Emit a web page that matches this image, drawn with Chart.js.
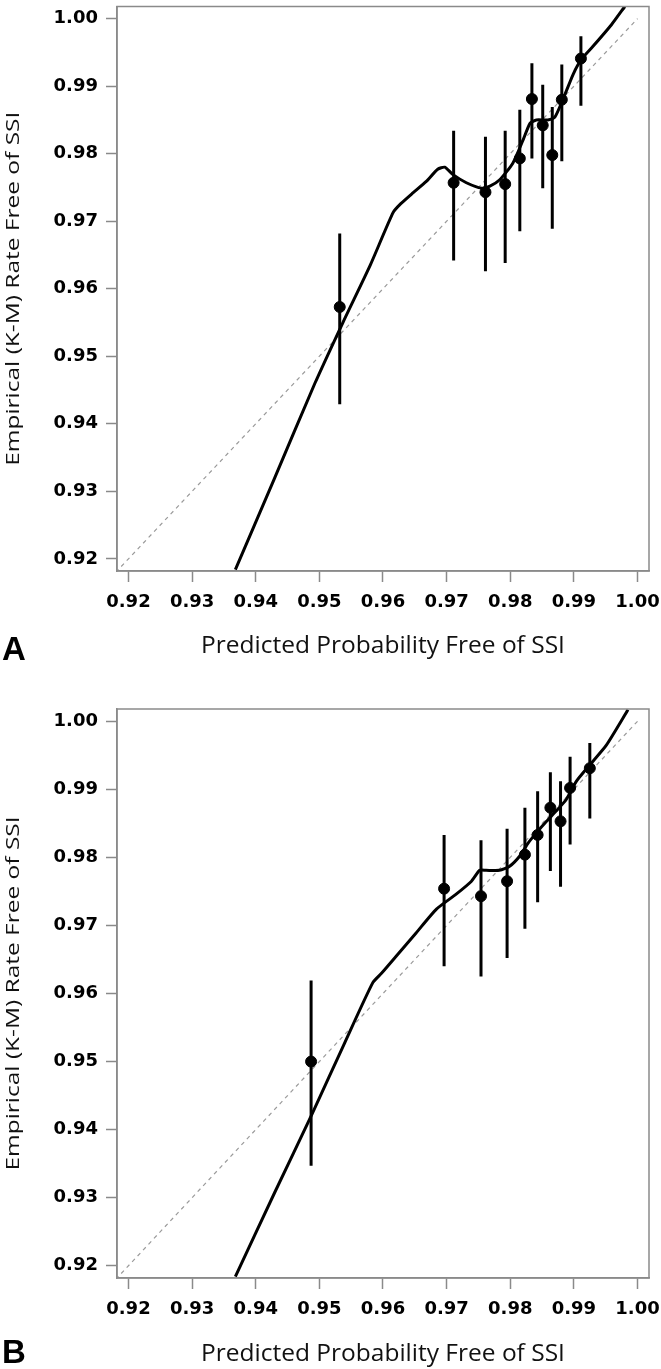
<!DOCTYPE html>
<html lang="en">
  <head>
    <meta charset="UTF-8" />
    <script src="https://cdn.jsdelivr.net/npm/chart.js@4.4.1/dist/chart.umd.min.js"></script>
    <title>Calibration plots</title>
    <style>
      html,
      body {
        margin: 0;
        padding: 0;
        background-color: #fff;
      }
      .wrap {
        position: relative;
        width: 661px;
        height: 1369px;
      }
      canvas {
        position: absolute;
        left: 0;
        display: block;
      }
      .panel {
        position: absolute;
        left: 2px;
        font: bold 33px "Liberation Sans", Arial, sans-serif;
        line-height: 1;
        color: #000;
      }
    </style>
  </head>
  <body>
    <div class="wrap">
      <canvas id="chartA" width="661" height="684" style="top: 0"></canvas>
      <canvas id="chartB" width="661" height="685" style="top: 684px"></canvas>
      <div class="panel" style="top: 632px">A</div>
      <div class="panel" style="top: 1335px">B</div>
    </div>
    <script>
      // shared axis setup
      const axisMin = 0.9182;
      const axisMax = 1.0018;
      const tickValues = [0.92, 0.93, 0.94, 0.95, 0.96, 0.97, 0.98, 0.99, 1.0];
      const xTitle = "Predicted Probability Free of SSI";
      const yTitle = "Empirical (K-M) Rate Free of SSI";

      // panel A - observed K-M rates by group with 95% CI
      const groupXA = [0.9532, 0.9711, 0.9761, 0.9792, 0.9815, 0.9834, 0.9851, 0.9866, 0.9881, 0.9911];
      const groupYA = [0.9573, 0.9757, 0.9743, 0.9755, 0.9793, 0.9881, 0.9842, 0.9798, 0.988, 0.9941];
      const lowerA = [0.9429, 0.9642, 0.9626, 0.9638, 0.9685, 0.9793, 0.9749, 0.9689, 0.9789, 0.9871];
      const upperA = [0.9682, 0.9834, 0.9825, 0.9834, 0.9865, 0.9934, 0.9902, 0.9869, 0.9932, 0.9974];
      // panel A - smoothed calibration curve
      const curveXA = [0.9368, 0.9429, 0.9493, 0.9537, 0.958, 0.9616, 0.9628, 0.9647, 0.9668, 0.9686, 0.9697, 0.971, 0.9731, 0.9755, 0.9768, 0.9783, 0.9804, 0.982, 0.9831, 0.9841, 0.9859, 0.987, 0.9883, 0.9899, 0.9912, 0.993, 0.9959, 0.998];
      const curveYA = [0.9184, 0.9318, 0.946, 0.955, 0.9635, 0.9713, 0.9726, 0.9742, 0.9759, 0.9777, 0.978, 0.9769, 0.9757, 0.9749, 0.9752, 0.9761, 0.9786, 0.982, 0.9845, 0.985, 0.985, 0.9854, 0.9881, 0.9918, 0.994, 0.9959, 0.9991, 1.0018];

      // panel B
      const groupXB = [0.9487, 0.9696, 0.9754, 0.9795, 0.9823, 0.9843, 0.9863, 0.9879, 0.9894, 0.9925];
      const groupYB = [0.95, 0.9754, 0.9743, 0.9765, 0.9804, 0.9833, 0.9873, 0.9853, 0.9902, 0.9931];
      const lowerB = [0.9347, 0.964, 0.9625, 0.9652, 0.9695, 0.9734, 0.978, 0.9757, 0.9819, 0.9857];
      const upperB = [0.9619, 0.9833, 0.9825, 0.9842, 0.9873, 0.9897, 0.9925, 0.9912, 0.9948, 0.9968];
      const curveXB = [0.9368, 0.943, 0.9489, 0.954, 0.9584, 0.9598, 0.9621, 0.9652, 0.9684, 0.9715, 0.9739, 0.9752, 0.9762, 0.9783, 0.9799, 0.9815, 0.9828, 0.9841, 0.9857, 0.9872, 0.9888, 0.9904, 0.9925, 0.9951, 0.9985];
      const curveYB = [0.9184, 0.9308, 0.9424, 0.9528, 0.9616, 0.963, 0.9655, 0.9689, 0.9724, 0.9746, 0.9765, 0.9781, 0.9781, 0.9781, 0.9787, 0.9802, 0.9821, 0.9836, 0.9853, 0.9868, 0.9885, 0.9912, 0.9936, 0.9965, 1.0017];

      const tickFont = { family: "'DejaVu Sans', Verdana, sans-serif", size: 18, weight: "bold" };

      // box around the plot area + stretched y title
      const framePlugin = {
        id: "frame",
        afterDraw(chart) {
          const { ctx, chartArea: a } = chart;
          ctx.save();
          ctx.strokeStyle = "#8a8a8a";
          ctx.lineWidth = 1.5;
          ctx.strokeRect(a.left, a.top, a.right - a.left, a.bottom - a.top);
          ctx.translate(14, (a.top + a.bottom) / 2);
          ctx.rotate(-Math.PI / 2);
          ctx.scale(1.36, 1);
          ctx.font = "18px 'Open Sans', sans-serif";
          ctx.fillStyle = "#111";
          ctx.textAlign = "center";
          ctx.textBaseline = "middle";
          ctx.fillText(yTitle, 0, 0);
          ctx.restore();
        },
      };

      function pairs(xs, ys) {
        return xs.map((x, i) => ({ x: x, y: ys[i] }));
      }

      function errorBars(xs, lo, hi) {
        const out = [];
        xs.forEach((x, i) => {
          out.push({ x: x, y: lo[i] });
          out.push({ x: x, y: hi[i] });
          out.push({ x: x, y: null });
        });
        return out;
      }

      function makePanel(id, gx, gy, lo, hi, cx, cy, padTop, xHeight, titlePad) {
        const ctx = document.getElementById(id).getContext("2d");
        return new Chart(ctx, {
          type: "scatter",
          data: {
            datasets: [
              {
                data: [{ x: 0.918, y: 0.918 }, { x: 1.0, y: 1.0 }],
                showLine: true,
                borderColor: "#9a9a9a",
                borderWidth: 1.2,
                borderDash: [4, 4],
                pointRadius: 0,
                clip: 0,
                order: 4,
              },
              {
                data: pairs(cx, cy),
                showLine: true,
                borderColor: "#000",
                borderWidth: 3,
                tension: 0.2,
                pointRadius: 0,
                clip: 0,
                order: 3,
              },
              {
                data: errorBars(gx, lo, hi),
                showLine: true,
                spanGaps: false,
                borderColor: "#000",
                borderWidth: 3,
                pointRadius: 0,
                order: 2,
              },
              {
                data: pairs(gx, gy),
                backgroundColor: "#000",
                borderColor: "#000",
                pointRadius: 5.5,
                order: 1,
              },
            ],
          },
          options: {
            responsive: false,
            animation: false,
            devicePixelRatio: 1,
            layout: { padding: { top: padTop, right: 12, left: 0, bottom: 0 } },
            plugins: { legend: { display: false }, tooltip: { enabled: false } },
            scales: {
              x: {
                type: "linear",
                min: axisMin,
                max: axisMax,
                afterBuildTicks: (s) => { s.ticks = tickValues.map((v) => ({ value: v })); },
                afterFit: (s) => {
                  s.height = xHeight;
                  s.paddingLeft = 0;
                  s.paddingRight = 0;
                },
                ticks: {
                  padding: 10,
                  color: "#000",
                  font: tickFont,
                  callback: (v) => v.toFixed(2),
                },
                grid: { drawOnChartArea: false, tickLength: 11, tickColor: "#8a8a8a", tickWidth: 1.5 },
                border: { color: "#8a8a8a", width: 1.5 },
                title: {
                  display: true,
                  text: xTitle,
                  color: "#111",
                  font: { family: "'Open Sans', sans-serif", size: 24.5 },
                  padding: { top: 0, bottom: titlePad },
                },
              },
              y: {
                type: "linear",
                min: axisMin,
                max: axisMax,
                afterBuildTicks: (s) => { s.ticks = tickValues.map((v) => ({ value: v })); },
                afterFit: (s) => {
                  s.width = 117;
                  s.paddingTop = 0;
                  s.paddingBottom = 0;
                },
                ticks: {
                  padding: 8,
                  color: "#000",
                  font: tickFont,
                  callback: (v) => v.toFixed(2),
                },
                grid: { drawOnChartArea: false, tickLength: 11, tickColor: "#8a8a8a", tickWidth: 1.5 },
                border: { color: "#8a8a8a", width: 1.5 },
              },
            },
          },
          plugins: [framePlugin],
        });
      }

      makePanel("chartA", groupXA, groupYA, lowerA, upperA, curveXA, curveYA, 2, 113, 23.6);
      makePanel("chartB", groupXB, groupYB, lowerB, upperB, curveXB, curveYB, 25, 91, 0);
    </script>
  </body>
</html>
